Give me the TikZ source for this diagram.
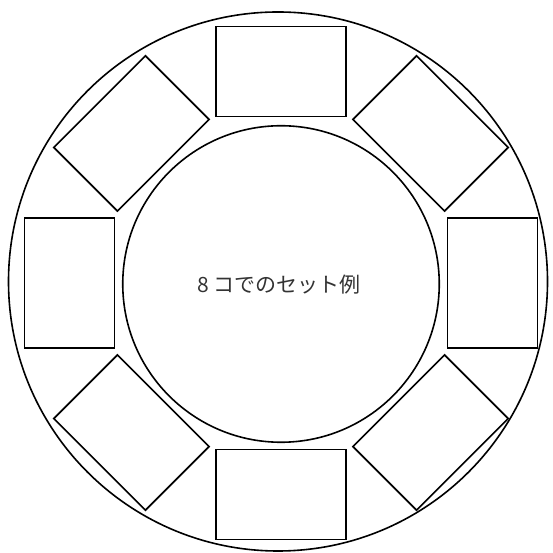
\documentclass[tikz,border=0pt]{standalone}
\usepackage{fontspec}
\newfontfamily\jpfont{Noto Sans CJK JP}

\begin{document}
\begin{tikzpicture}[x=1pt,y=1pt,
  seat/.style={draw=black, line width=1.7pt, minimum width=129.5pt, minimum height=90pt, inner sep=0pt, outer sep=0pt},
  ring/.style={circle, draw=black, line width=1.6pt, inner sep=0pt, outer sep=0pt}]
\useasboundingbox (0,0) rectangle (552,553);
\coordinate (ctr) at (281,270);
\node[ring, minimum size=539pt] (rim) at (278,271.5) {};
\node[ring, minimum size=316.5pt] (table) at (281,269) {};
\node[font=\jpfont\fontsize{21}{21}\selectfont, text=black!80] (title) at (279,268.5) {8 コでのセット例};
% eight seats round the table
\foreach \a [count=\i] in {90,135,...,405}
  \node[seat, rotate=\a-90] (seat\i) at ([shift={(\a:211.5)}]ctr) {};
\end{tikzpicture}
\end{document}
